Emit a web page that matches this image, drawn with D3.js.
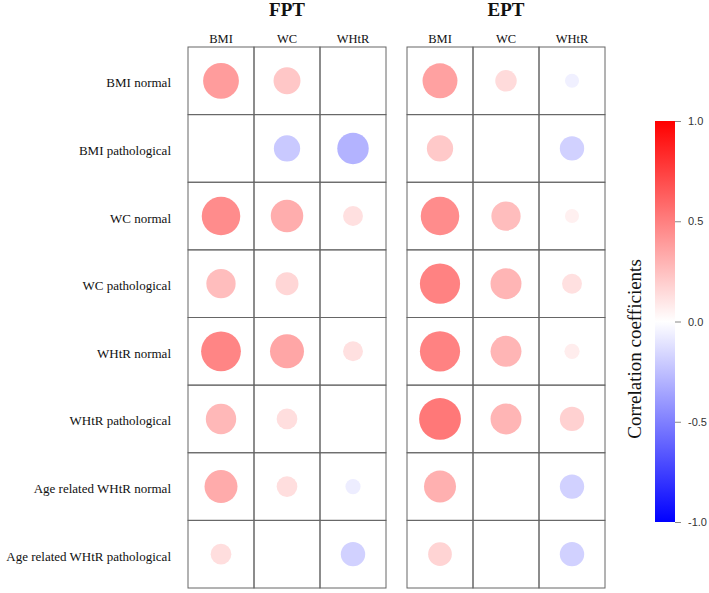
<!DOCTYPE html>
<html>
<head>
<meta charset="utf-8">
<script src="https://cdn.jsdelivr.net/npm/d3@7"></script>
<style>
  body { margin: 0; background: #fff; }
  .rowLabel, .colLabel, .panelTitle, .legendTitle { font-family: "Liberation Serif", "Times New Roman", serif; fill: #111; }
  .legendAxis text { font-family: "Liberation Sans", Arial, sans-serif; font-size: 11px; fill: #333; }
</style>
</head>
<body>
<div id="chart"></div>
<script>
    // chart size
    let width = 709;
    let height = 593;

    // categories
    let rowNames = ["BMI normal", "BMI pathological", "WC normal", "WC pathological",
                    "WHtR normal", "WHtR pathological", "Age related WHtR normal", "Age related WHtR pathological"];
    let colNames = ["BMI", "WC", "WHtR"];

    // correlation coefficients (null = not shown)
    let fptValues = [
        [0.39, 0.22, null],
        [null, -0.21, -0.30],
        [0.45, 0.32, 0.12],
        [0.26, 0.16, null],
        [0.48, 0.35, 0.12],
        [0.28, 0.13, null],
        [0.33, 0.13, -0.07],
        [0.13, null, -0.18]
    ];
    let eptValues = [
        [0.37, 0.14, -0.06],
        [0.21, null, -0.18],
        [0.45, 0.26, 0.06],
        [0.49, 0.29, 0.12],
        [0.49, 0.29, 0.07],
        [0.53, 0.29, 0.18],
        [0.31, null, -0.18],
        [0.17, null, -0.18]
    ];

    let legendTicks = [-1, -0.5, 0, 0.5, 1];

    // layout
    let gridTop = 47, gridBottom = 588;
    let panels = [
        {name: "FPT", values: fptValues, left: 188, right: 386},
        {name: "EPT", values: eptValues, left: 407, right: 605}
    ];

    // blue - white - red
    let color = d3.scaleLinear()
        .domain([-1, 0, 1])
        .range(["#0000ff", "#ffffff", "#ff0000"]);

    let svg = d3.select("#chart")
        .append("svg")
        .attr("width", width)
        .attr("height", height)
        .style("background", "#fff");

    let y = d3.scaleBand()
        .domain(rowNames)
        .range([gridTop, gridBottom]);

    // row labels
    svg.append("g")
        .selectAll("text")
        .data(rowNames)
        .join("text")
        .attr("class", "rowLabel")
        .attr("x", 171)
        .attr("y", d => y(d) + y.bandwidth() / 2 + 2)
        .attr("dy", "0.35em")
        .attr("text-anchor", "end")
        .style("font-size", "13px")
        .text(d => d);

    panels.forEach(p => {
        let x = d3.scaleBand()
            .domain(colNames)
            .range([p.left, p.right]);

        let r = d3.scaleSqrt()
            .domain([0, 1])
            .range([0, x.bandwidth() / 2 * 0.87]);

        let g = svg.append("g");

        // title
        g.append("text")
            .attr("class", "panelTitle")
            .attr("x", (p.left + p.right) / 2)
            .attr("y", 16)
            .attr("text-anchor", "middle")
            .style("font-size", "19px")
            .style("font-weight", "bold")
            .text(p.name);

        // column labels
        g.selectAll(".colLabel")
            .data(colNames)
            .join("text")
            .attr("class", "colLabel")
            .attr("x", d => x(d) + x.bandwidth() / 2)
            .attr("y", 43)
            .attr("text-anchor", "middle")
            .style("font-size", "12.5px")
            .text(d => d);

        // cells
        let cells = [];
        p.values.forEach((row, i) => {
            row.forEach((v, j) => {
                cells.push({row: rowNames[i], col: colNames[j], value: v});
            });
        });

        g.selectAll("rect")
            .data(cells)
            .join("rect")
            .attr("x", d => x(d.col))
            .attr("y", d => y(d.row))
            .attr("width", x.bandwidth())
            .attr("height", y.bandwidth())
            .attr("fill", "none")
            .attr("stroke", "#666")
            .attr("stroke-width", 1);

        g.selectAll("circle")
            .data(cells.filter(d => d.value !== null))
            .join("circle")
            .attr("cx", d => x(d.col) + x.bandwidth() / 2)
            .attr("cy", d => y(d.row) + y.bandwidth() / 2)
            .attr("r", d => r(Math.abs(d.value)))
            .attr("fill", d => color(d.value));
    });

    // colour legend
    let legendX = 655, legendW = 20;
    let ly = d3.scaleLinear()
        .domain([-1, 1])
        .range([522, 121]);

    let defs = svg.append("defs");
    let grad = defs.append("linearGradient")
        .attr("id", "corrGrad")
        .attr("x1", "0%").attr("x2", "0%")
        .attr("y1", "100%").attr("y2", "0%");
    grad.selectAll("stop")
        .data(d3.range(0, 1.01, 0.1))
        .join("stop")
        .attr("offset", d => (d * 100) + "%")
        .attr("stop-color", d => color(d * 2 - 1));

    svg.append("rect")
        .attr("x", legendX)
        .attr("y", ly(1))
        .attr("width", legendW)
        .attr("height", ly(-1) - ly(1))
        .attr("fill", "url(#corrGrad)");

    svg.append("g")
        .attr("class", "legendAxis")
        .attr("transform", "translate(" + (legendX + legendW) + ",0)")
        .call(d3.axisRight(ly).tickValues(legendTicks).tickFormat(d => d.toFixed(1)).tickSize(6).tickPadding(7))
        .call(g => g.select(".domain").remove())
        .call(g => g.selectAll("line").attr("stroke", "#888"));

    svg.append("text")
        .attr("class", "legendTitle")
        .attr("transform", "translate(641,349) rotate(-90)")
        .attr("text-anchor", "middle")
        .style("font-size", "19px")
        .text("Correlation coefficients");
</script>
</body>
</html>
